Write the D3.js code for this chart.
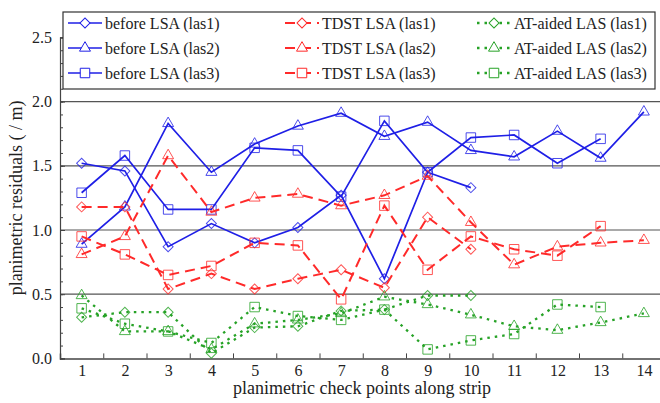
<!DOCTYPE html>
<html>
<head>
<meta charset="utf-8">
<script src="https://cdn.jsdelivr.net/npm/d3@7"></script>
<style>
  body { margin: 0; background: #fff; }
  svg { display: block; }
  svg text { font-family: "Liberation Serif", "Times New Roman", Times, serif; }
</style>
</head>
<body>
<div id="chart"></div>
<script>
const width = 660;
const height = 403;

// check points along the strip
const checkPoints = [1, 2, 3, 4, 5, 6, 7, 8, 9, 10, 11, 12, 13, 14];
const yTicks = [0.0, 0.5, 1.0, 1.5, 2.0, 2.5];

// planimetric residuals (m), one array per series
const beforeLas1 = [1.52, 1.46, 0.87, 1.05, 0.90, 1.02, 1.27, 0.62, 1.45, 1.33];
const beforeLas2 = [0.89, 1.18, 1.83, 1.45, 1.67, 1.81, 1.91, 1.73, 1.84, 1.62, 1.57, 1.77, 1.56, 1.92];
const beforeLas3 = [1.29, 1.58, 1.16, 1.16, 1.64, 1.62, 1.26, 1.85, 1.45, 1.72, 1.74, 1.52, 1.71];
const tdstLas1 = [1.18, 1.18, 0.54, 0.66, 0.54, 0.62, 0.69, 0.55, 1.10, 0.85];
const tdstLas2 = [0.81, 0.95, 1.58, 1.14, 1.25, 1.28, 1.19, 1.27, 1.42, 1.06, 0.73, 0.87, 0.90, 0.92];
const tdstLas3 = [0.95, 0.81, 0.65, 0.72, 0.90, 0.88, 0.46, 1.19, 0.69, 0.95, 0.85, 0.80, 1.03];
const atLas1 = [0.32, 0.36, 0.36, 0.04, 0.24, 0.25, 0.37, 0.38, 0.49, 0.49];
const atLas2 = [0.49, 0.21, 0.21, 0.07, 0.27, 0.30, 0.35, 0.48, 0.42, 0.34, 0.25, 0.22, 0.28, 0.35];
const atLas3 = [0.39, 0.27, 0.21, 0.12, 0.40, 0.33, 0.30, 0.38, 0.07, 0.14, 0.19, 0.42, 0.40];

const blue = "#1f1fe6", red = "#ff2a2a", green = "#26a226";
const series = [
  { name: "before LSA (las1)", values: beforeLas1, color: blue, dash: null, width: 1.7, shape: "diamond" },
  { name: "before LSA (las2)", values: beforeLas2, color: blue, dash: null, width: 1.7, shape: "triangle" },
  { name: "before LSA (las3)", values: beforeLas3, color: blue, dash: null, width: 1.7, shape: "square" },
  { name: "TDST LSA (las1)", values: tdstLas1, color: red, dash: "10,6", width: 2, shape: "diamond" },
  { name: "TDST LSA (las2)", values: tdstLas2, color: red, dash: "10,6", width: 2, shape: "triangle" },
  { name: "TDST LSA (las3)", values: tdstLas3, color: red, dash: "10,6", width: 2, shape: "square" },
  { name: "AT-aided LAS (las1)", values: atLas1, color: green, dash: "2.5,5", width: 2.3, shape: "diamond" },
  { name: "AT-aided LAS (las2)", values: atLas2, color: green, dash: "2.5,5", width: 2.3, shape: "triangle" },
  { name: "AT-aided LAS (las3)", values: atLas3, color: green, dash: "2.5,5", width: 2.3, shape: "square" }
];

const svg = d3.select("#chart").append("svg")
  .attr("width", width)
  .attr("height", height);

const x = d3.scaleLinear().domain([0.5, 14.5]).range([60, 665.5]);
const y = d3.scaleLinear().domain([0, 2.5]).range([358.4, 37.4]);

// grid lines
svg.append("g")
  .selectAll("line")
  .data(yTicks.filter(d => d > 0 && d < 2.5))
  .join("line")
  .attr("x1", x(0.5)).attr("x2", width)
  .attr("y1", d => y(d)).attr("y2", d => y(d))
  .attr("stroke", "#555").attr("stroke-width", 1.2);

// y axis: minor + major ticks pointing inside
const yMinor = d3.range(0, 2.51, 0.1);
svg.append("g")
  .attr("transform", `translate(${x(0.5)},0)`)
  .call(d3.axisLeft(y).tickValues(yMinor).tickSize(-3).tickFormat(""))
  .call(g => g.select(".domain").remove())
  .selectAll("line").attr("stroke", "#444");
const yAxis = svg.append("g")
  .attr("transform", `translate(${x(0.5)},0)`)
  .call(d3.axisLeft(y).tickValues(yTicks).tickSize(-5).tickPadding(8).tickFormat(d3.format(".1f")));
yAxis.attr("font-family", null);
yAxis.select(".domain").attr("stroke", "#444").attr("stroke-width", 1.2);
yAxis.selectAll("line").attr("stroke", "#444");
yAxis.selectAll("text").attr("font-size", 16).attr("fill", "#222");

// x axis: ticks at half positions, labels at integers
const xAxis = svg.append("g")
  .attr("transform", `translate(0,${y(0)})`)
  .call(d3.axisBottom(x).tickValues(d3.range(1.5, 14.5, 1)).tickSize(-5).tickFormat(""));
xAxis.select(".domain").attr("stroke", "#444").attr("stroke-width", 1.5);
xAxis.selectAll("line").attr("stroke", "#444");
const xLabels = svg.append("g")
  .attr("transform", `translate(0,${y(0)})`)
  .call(d3.axisBottom(x).tickValues(checkPoints).tickSize(0).tickPadding(6));
xLabels.attr("font-family", null);
xLabels.select(".domain").remove();
xLabels.selectAll("text").attr("font-size", 16).attr("fill", "#222");

// axis titles
svg.append("text")
  .attr("x", (x(0.5) + width) / 2 + 2).attr("y", 394)
  .attr("text-anchor", "middle").attr("font-size", 18).attr("fill", "#222")
  .text("planimetric check points along strip");
svg.append("text")
  .attr("transform", `translate(22,${y(1.25)}) rotate(-90)`)
  .attr("text-anchor", "middle").attr("font-size", 18).attr("fill", "#222")
  .text("planimetric residuals ( / m)");

function markerPath(shape) {
  if (shape === "diamond") return d3.symbol(d3.symbolSquare, 50)();
  if (shape === "triangle") return d3.symbol(d3.symbolTriangle, 52)();
  return d3.symbol(d3.symbolSquare, 90)();
}

const line = d3.line()
  .x((d, i) => x(checkPoints[i]))
  .y(d => y(d));

const plot = svg.append("g");
series.forEach(s => {
  plot.append("path")
    .datum(s.values)
    .attr("fill", "none")
    .attr("stroke", s.color)
    .attr("stroke-width", s.width)
    .attr("stroke-dasharray", s.dash)
    .attr("d", line);
  plot.append("g")
    .selectAll("path")
    .data(s.values)
    .join("path")
    .attr("d", markerPath(s.shape))
    .attr("transform", (d, i) => `translate(${x(checkPoints[i])},${y(d)})` + (s.shape === "diamond" ? " rotate(45)" : ""))
    .attr("fill", "none")
    .attr("stroke", s.color)
    .attr("stroke-opacity", 0.8)
    .attr("stroke-width", 1);
});

// legend
const legend = svg.append("g");
legend.append("rect")
  .attr("x", 63).attr("y", 12).attr("width", 592).attr("height", 77)
  .attr("fill", "#fff").attr("stroke", "#333").attr("stroke-width", 1.2);
const colX = [68, 285, 477];
series.forEach((s, k) => {
  const cx = colX[Math.floor(k / 3)];
  const cy = 23 + (k % 3) * 25;
  const item = legend.append("g").attr("transform", `translate(${cx},${cy})`);
  item.append("line")
    .attr("x1", 0).attr("x2", 34)
    .attr("stroke", s.color).attr("stroke-width", s.width)
    .attr("stroke-dasharray", s.dash);
  item.append("path")
    .attr("d", markerPath(s.shape))
    .attr("transform", "translate(17,0)" + (s.shape === "diamond" ? " rotate(45)" : ""))
    .attr("fill", "#fff").attr("stroke", s.color).attr("stroke-width", 1);
  item.append("text")
    .attr("x", 37).attr("y", 0).attr("dy", "0.35em")
    .attr("font-size", 16).attr("fill", "#222")
    .text(s.name);
});
</script>
</body>
</html>
